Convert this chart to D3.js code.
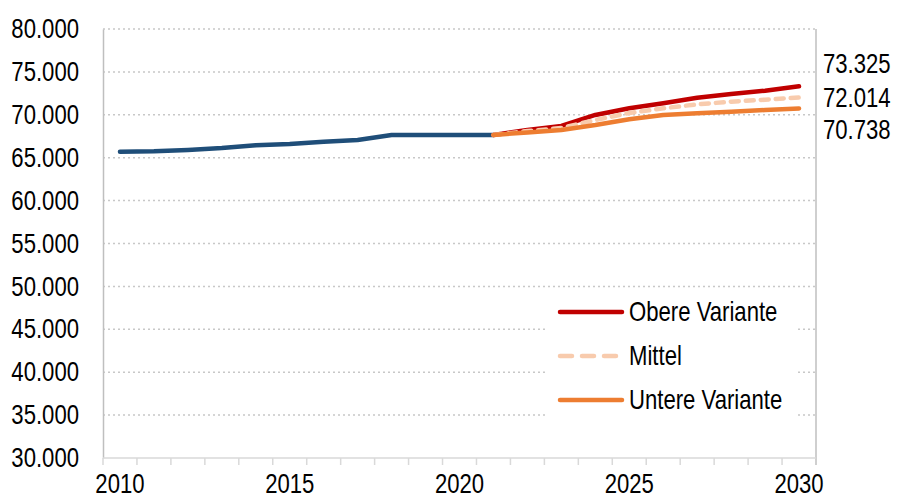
<!DOCTYPE html>
<html>
<head>
<meta charset="utf-8">
<script src="https://cdn.jsdelivr.net/npm/d3@7"></script>
<style>
  body { margin: 0; background: #fff; }
  text { font-family: "Liberation Sans", Arial, sans-serif; fill: #000; }
</style>
</head>
<body>
<script>
const w = 901;
const h = 499;

const years = [2010, 2011, 2012, 2013, 2014, 2015, 2016, 2017, 2018, 2019, 2020,
  2021, 2022, 2023, 2024, 2025, 2026, 2027, 2028, 2029, 2030];
const histYears = [2010, 2011, 2012, 2013, 2014, 2015, 2016, 2017, 2018, 2019, 2020, 2021];
const histValues = [65700, 65750, 65900, 66130, 66450, 66600, 66870, 67060, 67650, 67650, 67650, 67650];
const projYears = [2021, 2022, 2023, 2024, 2025, 2026, 2027, 2028, 2029, 2030];
const obere = [67650, 68230, 68700, 69980, 70760, 71340, 71990, 72420, 72810, 73325];
const mittel = [67650, 68100, 68460, 69390, 70210, 70760, 71220, 71530, 71760, 72014];
const untere = [67650, 67950, 68230, 68810, 69480, 69980, 70180, 70360, 70560, 70738];
const yTicks = [30000, 35000, 40000, 45000, 50000, 55000, 60000, 65000, 70000, 75000, 80000];
const xLabels = [2010, 2015, 2020, 2025, 2030];
const seriesNames = ["Obere Variante", "Mittel", "Untere Variante"];

const plotLeft = 103, plotRight = 816, plotTop = 29, plotBottom = 458;
const fontSize = "27px";
const squeeze = 0.82; // no Arial Narrow installed, so squeeze Liberation Sans

const de = d3.formatLocale({ decimal: ",", thousands: ".", grouping: [3], currency: ["", " €"] });
const fmt = de.format(",.0f");

let svg = d3.select("body").append("svg").attr("width", w).attr("height", h);

const x = d3.scaleBand().domain(years).range([plotLeft, plotRight]).padding(0);
const cx = function (d) { return x(d) + x.bandwidth() / 2; };
const y = d3.scaleLinear().domain([30000, 80000]).range([plotBottom, plotTop]);

const narrowAt = function (px, py) {
  return "translate(" + px + "," + py + ") scale(" + squeeze + ",1)";
};

// gridlines
svg.append("g")
  .selectAll("line")
  .data(yTicks.slice(1))
  .enter()
  .append("line")
  .attr("x1", plotLeft)
  .attr("x2", plotRight)
  .attr("y1", function (d) { return y(d); })
  .attr("y2", function (d) { return y(d); })
  .attr("stroke", "#c8c8c8")
  .attr("stroke-width", 1.5)
  .attr("stroke-dasharray", "2,3");

// y axis
let yAxis = svg.append("g")
  .attr("transform", "translate(" + plotLeft + ",0)")
  .call(d3.axisLeft(y).tickValues(yTicks).tickSize(0).tickPadding(24).tickFormat(fmt));
yAxis.select(".domain").attr("stroke", "#bfbfbf").attr("stroke-width", 1.5);
yAxis.selectAll("text")
  .attr("x", 0)
  .attr("transform", narrowAt(-24, 0))
  .attr("font-size", fontSize)
  .attr("font-family", null)
  .attr("fill", "#000");

// right border
svg.append("line")
  .attr("x1", plotRight).attr("x2", plotRight)
  .attr("y1", plotTop).attr("y2", plotBottom + 7)
  .attr("stroke", "#bfbfbf").attr("stroke-width", 1.5);

// x axis
svg.append("line")
  .attr("x1", plotLeft).attr("x2", plotRight)
  .attr("y1", plotBottom).attr("y2", plotBottom)
  .attr("stroke", "#d9d9d9").attr("stroke-width", 1.5);

svg.append("g")
  .selectAll("line")
  .data(years)
  .enter()
  .append("line")
  .attr("x1", function (d) { return x(d); })
  .attr("x2", function (d) { return x(d); })
  .attr("y1", plotBottom)
  .attr("y2", plotBottom + 7)
  .attr("stroke", "#d9d9d9")
  .attr("stroke-width", 1.5);

svg.append("g")
  .selectAll("text")
  .data(xLabels)
  .enter()
  .append("text")
  .text(function (d) { return d; })
  .attr("transform", function (d) { return narrowAt(cx(d), 493); })
  .attr("text-anchor", "middle")
  .attr("font-size", fontSize);

// lines
const lineFunc = d3.line()
  .x(function (d) { return cx(d[0]); })
  .y(function (d) { return y(d[1]); })
  .curve(d3.curveLinear);

const zipYears = function (ys, vs) { return ys.map(function (yr, i) { return [yr, vs[i]]; }); };

svg.append("path")
  .attr("d", lineFunc(zipYears(histYears, histValues)))
  .attr("stroke", "#1f4e79")
  .attr("stroke-width", 4.5)
  .attr("stroke-linecap", "round")
  .attr("stroke-linejoin", "round")
  .attr("fill", "none");

const series = [
  { name: seriesNames[0], values: obere, color: "#c00000", dash: null },
  { name: seriesNames[1], values: mittel, color: "#f8cbad", dash: "8,7" },
  { name: seriesNames[2], values: untere, color: "#ed7d31", dash: null },
];

series.forEach(function (s) {
  svg.append("path")
    .attr("d", lineFunc(zipYears(projYears, s.values)))
    .attr("stroke", s.color)
    .attr("stroke-width", 4.5)
    .attr("stroke-linecap", "round")
    .attr("stroke-linejoin", "round")
    .attr("stroke-dasharray", s.dash)
    .attr("fill", "none");
});

// end labels
const endY = [64, 98, 130];
svg.append("g")
  .selectAll("text")
  .data(series)
  .enter()
  .append("text")
  .text(function (d) { return fmt(d.values[d.values.length - 1]); })
  .attr("transform", function (d, i) { return narrowAt(823, endY[i]); })
  .attr("dy", ".35em")
  .attr("font-size", fontSize);

// legend
let legend = svg.append("g");
legend.append("rect")
  .attr("x", 548).attr("y", 290).attr("width", 248).attr("height", 132)
  .attr("fill", "#fff");
const legY = [312, 356, 400];
let items = legend.selectAll("g.item")
  .data(series)
  .enter()
  .append("g")
  .attr("transform", function (d, i) { return "translate(0," + legY[i] + ")"; });
items.append("line")
  .attr("x1", 560).attr("x2", 622)
  .attr("stroke", function (d) { return d.color; })
  .attr("stroke-width", 4.5)
  .attr("stroke-linecap", "round")
  .attr("stroke-dasharray", function (d) { return d.dash ? "12,10" : null; });
items.append("text")
  .text(function (d) { return d.name; })
  .attr("transform", narrowAt(629, 0))
  .attr("dy", ".35em")
  .attr("font-size", fontSize);
</script>
</body>
</html>
